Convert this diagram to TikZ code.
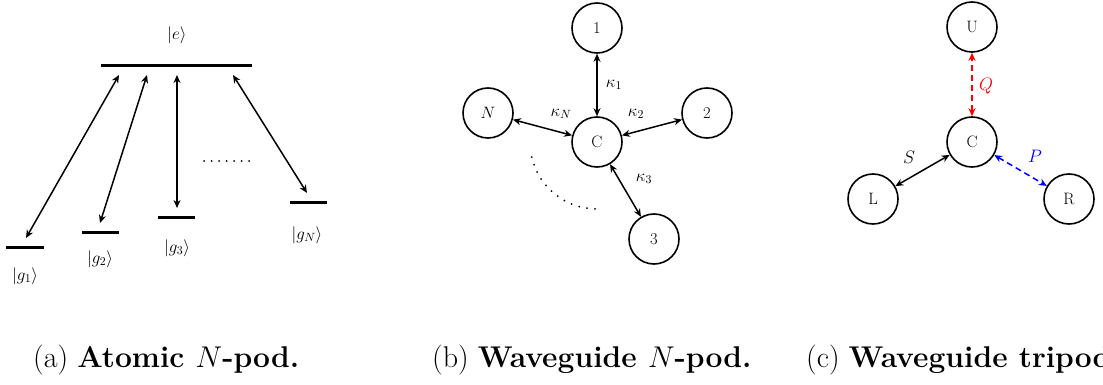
\RequirePackage{fix-cm}
\documentclass[tikz,border=0pt]{standalone}
\usepackage{fontspec}
\usetikzlibrary{arrows.meta}
\begin{document}
\begin{tikzpicture}[x=1pt,y=-1pt,
  level/.style={line width=3pt},
  trans/.style={line width=1.5pt,{Stealth[length=8pt,width=7pt]}-{Stealth[length=8pt,width=7pt]}},
  site/.style={circle,draw,line width=1.6pt,minimum size=50pt,inner sep=0pt,font=\fontsize{16.5}{19}\selectfont},
  lvl/.style={font=\fontsize{17}{20}\selectfont},
  klab/.style={font=\fontsize{17}{20}\selectfont},
  clab/.style={font=\fontsize{18}{21}\selectfont},
  dots/.style={line width=2pt,line cap=round,dash pattern=on 0pt off 7.5pt},
  ddash/.style={dash pattern=on 6pt off 4pt},
  captext/.style={anchor=base west,inner sep=0pt,font=\fontsize{30}{35}\selectfont}]
\useasboundingbox (0,0) rectangle (1103,385);

% ---- (a) atomic N-pod: energy levels ----
\coordinate (eL) at (101,66);  \coordinate (eR) at (252,66);
\coordinate (g1L) at (6,247);  \coordinate (g1R) at (44,247);
\coordinate (g2L) at (82,232); \coordinate (g2R) at (119,232);
\coordinate (g3L) at (158,217);\coordinate (g3R) at (195,217);
\coordinate (gNL) at (290,202);\coordinate (gNR) at (327,202);
\draw[level] (eL) -- (eR);
\draw[level] (g1L) -- (g1R);
\draw[level] (g2L) -- (g2R);
\draw[level] (g3L) -- (g3R);
\draw[level] (gNL) -- (gNR);

\node[lvl] (le) at (177,35) {$|e\rangle$};
\node[lvl] (lg1) at (25,276) {$|g_1\rangle$};
\node[lvl] (lg2) at (100,259) {$|g_2\rangle$};
\node[lvl] (lg3) at (177,248) {$|g_3\rangle$};
\node[lvl] (lgN) at (307,235) {$|g_N\rangle$};

\coordinate (e1) at (119,75); \coordinate (b1) at (26,238);
\coordinate (e2) at (147,75); \coordinate (b2) at (100,223);
\coordinate (e3) at (177,75); \coordinate (b3) at (177,208);
\coordinate (eN) at (233,75); \coordinate (bN) at (307,193);
\draw[trans] (e1) -- (b1);
\draw[trans] (e2) -- (b2);
\draw[trans] (e3) -- (b3);
\draw[trans] (eN) -- (bN);

\coordinate (d1) at (204,161); \coordinate (d2) at (250,161);
\draw[dots] (d1) -- (d2);

% ---- (b) waveguide N-pod ----
\node[site] (C) at (597,142) {C};
\node[site] (n1) at (597,28) {1};
\node[site] (nN) at (488,113) {$N$};
\node[site] (n2) at (707,113) {2};
\node[site] (n3) at (654,239) {3};
\draw[trans] (C) -- (n1);
\draw[trans] (C) -- (nN);
\draw[trans] (C) -- (n2);
\draw[trans] (C) -- (n3);
\node[klab] (k1) at (614,85) {$\kappa_1$};
\node[klab] (kN) at (561,114) {$\kappa_N$};
\node[klab] (k2) at (636,114) {$\kappa_2$};
\node[klab] (k3) at (644,179) {$\kappa_3$};
\draw[dots,dash pattern=on 0pt off 8pt] (C) ++(167:67) arc[start angle=167,end angle=90,radius=67];

% ---- (c) waveguide tripod ----
\node[site] (Cc) at (972,142) {C};
\node[site] (U) at (972,27) {U};
\node[site] (L) at (873,199) {L};
\node[site] (R) at (1069,199) {R};
\draw[trans,ddash,red] (Cc) -- (U);
\draw[trans] (Cc) -- (L);
\draw[trans,ddash,blue] (Cc) -- (R);
\node[clab,red] (q) at (986,86) {$Q$};
\node[clab] (s) at (909,157) {$S$};
\node[clab,blue] (p) at (1035,156) {$P$};

% ---- captions ----
\node[captext] (capa) at (33,367) {(a) \textbf{Atomic $N$-pod.}};
\node[captext] (capb) at (432,367) {(b) \textbf{Waveguide $N$-pod.}};
\node[captext] (capc) at (806,367) {(c) \textbf{Waveguide tripod.}};
\end{tikzpicture}
\end{document}
